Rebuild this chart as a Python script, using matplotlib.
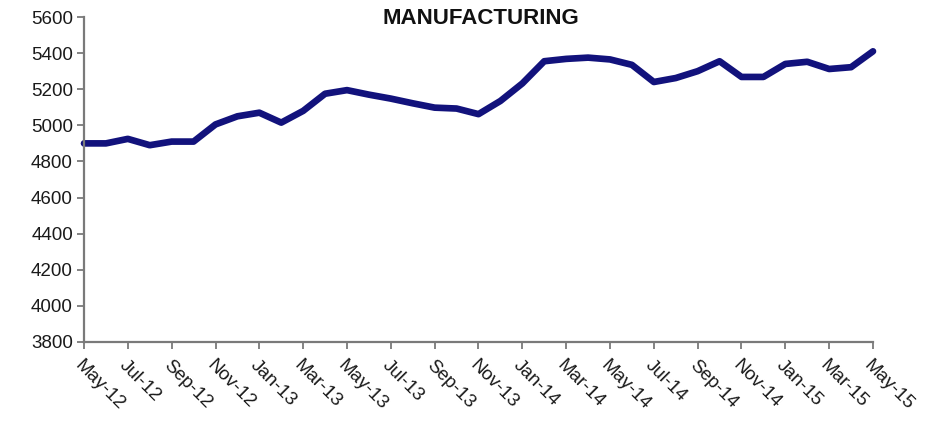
import matplotlib
matplotlib.use("Agg")
import matplotlib.pyplot as plt

months = ["May-12","Jun-12","Jul-12","Aug-12","Sep-12","Oct-12","Nov-12","Dec-12",
          "Jan-13","Feb-13","Mar-13","Apr-13","May-13","Jun-13","Jul-13","Aug-13",
          "Sep-13","Oct-13","Nov-13","Dec-13","Jan-14","Feb-14","Mar-14","Apr-14",
          "May-14","Jun-14","Jul-14","Aug-14","Sep-14","Oct-14","Nov-14","Dec-14",
          "Jan-15","Feb-15","Mar-15","Apr-15","May-15"]
values = [4900, 4900, 4925, 4890, 4910, 4910, 5005, 5050,
          5070, 5015, 5080, 5175, 5195, 5170, 5148, 5122,
          5098, 5093, 5062, 5135, 5232, 5355, 5368, 5375,
          5365, 5335, 5240, 5262, 5300, 5355, 5268, 5268,
          5340, 5352, 5312, 5322, 5410]
yticks = [3800, 4000, 4200, 4400, 4600, 4800, 5000, 5200, 5400, 5600]

plt.rcParams['font.family'] = ['Liberation Sans', 'DejaVu Sans']

fig = plt.figure(figsize=(9.44, 4.22), dpi=100)
ax = fig.add_axes([84/944, 1 - 342/422, (873-84)/944, (342-17)/422])

x = list(range(len(months)))
ax.plot(x, values, color='#12127c', linewidth=4.8, solid_joinstyle='round', solid_capstyle='round', clip_on=False)

ax.set_xlim(0, len(months) - 1)
ax.set_ylim(3800, 5600)
ax.set_yticks(yticks)
ax.set_yticklabels([str(v) for v in yticks], fontsize=13.5, color='#1a1a1a')
ax.set_xticks(x[::2])
ax.set_xticklabels(months[::2], rotation=-45, ha='left', va='top', rotation_mode='anchor',
                   fontsize=13.5, color='#1a1a1a')

for s in ['top', 'right']:
    ax.spines[s].set_visible(False)
for s in ['left', 'bottom']:
    ax.spines[s].set_color('#7a7a7a')
    ax.spines[s].set_linewidth(1.6)
ax.tick_params(axis='both', colors='#7a7a7a', length=5, width=1.3, labelcolor='#1a1a1a')
ax.tick_params(axis='x', pad=6)
ax.tick_params(axis='y', pad=3)

fig.text(481/944, 1 - 18/422, "MANUFACTURING", ha='center', va='center',
         fontsize=16, fontweight='bold', color='#111111')

fig.savefig("out.png", dpi=100)
